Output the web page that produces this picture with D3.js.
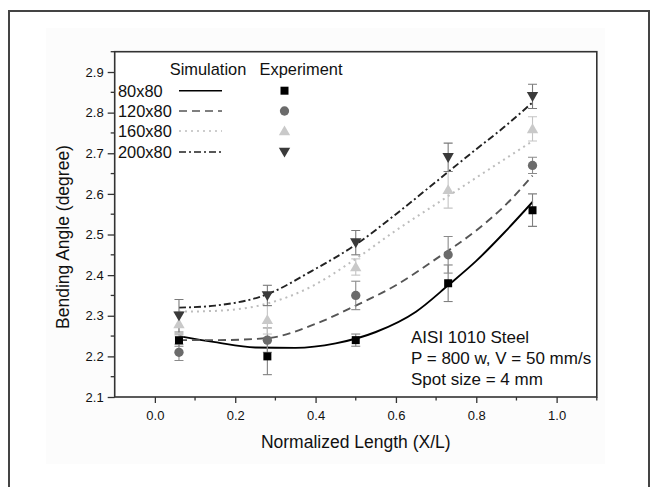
<!DOCTYPE html>
<html>
<head>
<meta charset="utf-8">
<script src="https://cdn.jsdelivr.net/npm/d3@7"></script>
<style>
  html, body { margin: 0; padding: 0; background: #fff; }
  svg { display: block; }
  text { font-family: "Liberation Sans", Arial, sans-serif; fill: #111; }
</style>
</head>
<body>
<svg id="chart" width="656" height="487"></svg>
<script>
// ---------------- data ----------------
const seriesNames = ["80x80", "120x80", "160x80", "200x80"];
const xTicks = [0.0, 0.2, 0.4, 0.6, 0.8, 1.0];
const yTicks = [2.1, 2.2, 2.3, 2.4, 2.5, 2.6, 2.7, 2.8, 2.9];

// experiment (x positions shared)
const xExp = [0.06, 0.28, 0.5, 0.73, 0.94];
const exp80  = [2.24, 2.20, 2.24, 2.38, 2.56];
const err80  = [0.015, 0.045, 0.015, 0.045, 0.04];
const exp120 = [2.21, 2.24, 2.35, 2.45, 2.67];
const err120 = [0.02, 0.03, 0.035, 0.045, 0.02];
const exp160 = [2.28, 2.29, 2.42, 2.61, 2.76];
const err160 = [0.03, 0.035, 0.02, 0.045, 0.03];
const exp200 = [2.30, 2.35, 2.48, 2.69, 2.84];
const err200 = [0.04, 0.025, 0.03, 0.035, 0.03];

// simulation curves
const sim80X  = [0.06, 0.15, 0.25, 0.35, 0.45, 0.55, 0.65, 0.73, 0.80, 0.87, 0.94];
const sim80Y  = [2.25, 2.235, 2.222, 2.221, 2.232, 2.26, 2.31, 2.375, 2.435, 2.505, 2.58];
const sim120X = [0.06, 0.15, 0.28, 0.40, 0.50, 0.60, 0.70, 0.80, 0.87, 0.94];
const sim120Y = [2.24, 2.24, 2.245, 2.28, 2.325, 2.375, 2.44, 2.51, 2.57, 2.645];
const sim160X = [0.06, 0.15, 0.28, 0.39, 0.50, 0.60, 0.70, 0.80, 0.87, 0.94];
const sim160Y = [2.31, 2.312, 2.33, 2.372, 2.44, 2.51, 2.575, 2.64, 2.685, 2.73];
const sim200X = [0.06, 0.15, 0.28, 0.39, 0.50, 0.60, 0.70, 0.80, 0.87, 0.94];
const sim200Y = [2.32, 2.325, 2.353, 2.41, 2.475, 2.55, 2.63, 2.71, 2.765, 2.825];

const annotation = ["AISI 1010 Steel", "P = 800 w, V = 50 mm/s", "Spot size = 4 mm"];

// ---------------- styles ----------------
const styles = [
  { line: "#000",    dash: null,      marker: d3.symbolSquare,   mSize: 64, fill: "#000",    err: "#808080", rot: 0 },
  { line: "#555",    dash: "8,5",     marker: d3.symbolCircle,   mSize: 68, fill: "#6b6b6b", err: "#8a8a8a", rot: 0 },
  { line: "#bdbdbd", dash: "2,4",     marker: d3.symbolTriangle, mSize: 56, fill: "#c9c9c9", err: "#c4c4c4", rot: 0 },
  { line: "#222",    dash: "7,3,2,3", marker: d3.symbolTriangle, mSize: 56, fill: "#3a3a3a", err: "#7a7a7a", rot: 180 }
];

const expData = [[exp80, err80], [exp120, err120], [exp160, err160], [exp200, err200]];
const simData = [[sim80X, sim80Y], [sim120X, sim120Y], [sim160X, sim160Y], [sim200X, sim200Y]];

// ---------------- layout ----------------
const svg = d3.select("#chart");
const L = 114.7, R = 596.8, T = 51.7, B = 397;
const x = d3.scaleLinear().domain([-0.1, 1.1]).range([L, R]);
const y = d3.scaleLinear().domain([2.1, 2.95]).range([B, T]);

// page frame
svg.append("rect").attr("x", 46).attr("y", 28).attr("width", 559).attr("height", 436).attr("fill", "#fcfcfc");
svg.append("path").attr("d", `M9,495 V11 H649 V495`).attr("fill", "none").attr("stroke", "#444").attr("stroke-width", 2);

svg.append("rect").attr("x", L).attr("y", T).attr("width", R - L).attr("height", B - T).attr("fill", "#fff");

// clip
svg.append("clipPath").attr("id", "clip").append("rect")
  .attr("x", L).attr("y", T).attr("width", R - L).attr("height", B - T);

// axes
const xAxis = d3.axisBottom(x).tickValues(xTicks).tickFormat(d3.format(".1f")).tickSize(6).tickSizeOuter(0);
const gx = svg.append("g").attr("transform", `translate(0,${B})`).call(xAxis);
const yAxis = d3.axisLeft(y).tickValues(yTicks).tickFormat(d3.format(".1f")).tickSize(7).tickSizeOuter(0);
const gy = svg.append("g").attr("transform", `translate(${L},0)`).call(yAxis);

// minor ticks
const xMinor = d3.range(-0.1, 1.1001, 0.1).filter(v => !xTicks.some(t => Math.abs(t - v) < 1e-6) && v > -0.09);
svg.append("g").selectAll("line").data(xMinor).join("line")
  .attr("x1", d => x(d)).attr("x2", d => x(d)).attr("y1", B).attr("y2", B + 3.5)
  .attr("stroke", "#333").attr("stroke-width", 1.3);
const yMinor = d3.range(2.15, 2.95, 0.1);
svg.append("g").selectAll("line").data(yMinor).join("line")
  .attr("x1", L).attr("x2", L - 4).attr("y1", d => y(d)).attr("y2", d => y(d))
  .attr("stroke", "#333").attr("stroke-width", 1.3);

[gx, gy].forEach(g => {
  g.select(".domain").remove();
  g.selectAll(".tick line").attr("stroke", "#333").attr("stroke-width", 1.3);
  g.selectAll(".tick text").attr("font-family", "Liberation Sans, Arial, sans-serif")
    .attr("font-size", 13).attr("fill", "#222");
});
gx.selectAll(".tick text").attr("dy", "0.71em").attr("y", 14);
gy.selectAll(".tick text").attr("x", -11);

// box
svg.append("rect").attr("x", L).attr("y", T).attr("width", R - L).attr("height", B - T)
  .attr("fill", "none").attr("stroke", "#333").attr("stroke-width", 1.6);

// axis titles
svg.append("text").attr("x", (L + R) / 2).attr("y", 448).attr("text-anchor", "middle")
  .attr("font-size", 17.5).text("Normalized Length (X/L)");
svg.append("text").attr("transform", `translate(68.5,237) rotate(-90)`)
  .attr("text-anchor", "middle").attr("font-size", 17.5).text("Bending Angle (degree)");

// simulation curves
const plot = svg.append("g").attr("clip-path", "url(#clip)");
const lineGen = d3.line().x(d => x(d[0])).y(d => y(d[1])).curve(d3.curveMonotoneX);
simData.forEach((s, i) => {
  const pts = s[0].map((v, k) => [v, s[1][k]]);
  plot.append("path").datum(pts).attr("d", lineGen)
    .attr("fill", "none").attr("stroke", styles[i].line).attr("stroke-width", i === 2 ? 2 : 1.9)
    .attr("stroke-dasharray", styles[i].dash);
});

// error bars + markers
expData.forEach((e, i) => {
  const st = styles[i];
  const g = plot.append("g");
  xExp.forEach((xv, k) => {
    const v = e[0][k], er = e[1][k];
    const cx = x(xv);
    g.append("line").attr("x1", cx).attr("x2", cx).attr("y1", y(v - er)).attr("y2", y(v + er))
      .attr("stroke", st.err).attr("stroke-width", 1.1);
    [v - er, v + er].forEach(b => {
      g.append("line").attr("x1", cx - 4.5).attr("x2", cx + 4.5).attr("y1", y(b)).attr("y2", y(b))
        .attr("stroke", st.err).attr("stroke-width", 1.1);
    });
  });
});
expData.forEach((e, i) => {
  const st = styles[i];
  plot.append("g").selectAll("path").data(xExp).join("path")
    .attr("d", d3.symbol().type(st.marker).size(st.mSize))
    .attr("transform", (d, k) => `translate(${x(d)},${y(e[0][k]) + (st.marker === d3.symbolTriangle ? (st.rot ? -1 : 1) : 0)}) rotate(${st.rot})`)
    .attr("fill", st.fill);
});

// legend
const lg = svg.append("g");
lg.append("text").attr("x", 208).attr("y", 75).attr("text-anchor", "middle").attr("font-size", 16.4).text("Simulation");
lg.append("text").attr("x", 301).attr("y", 75).attr("text-anchor", "middle").attr("font-size", 16.4).text("Experiment");
const rowY = [90.7, 111, 131, 152];
seriesNames.forEach((n, i) => {
  const st = styles[i];
  lg.append("text").attr("x", 118).attr("y", rowY[i]).attr("dy", "0.36em").attr("font-size", 16.4).text(n);
  lg.append("line").attr("x1", 179).attr("x2", 222).attr("y1", rowY[i]).attr("y2", rowY[i])
    .attr("stroke", st.line).attr("stroke-width", 1.5).attr("stroke-dasharray", st.dash);
  lg.append("path").attr("d", d3.symbol().type(st.marker).size(st.mSize)())
    .attr("transform", `translate(284.5,${rowY[i] + (st.marker === d3.symbolTriangle ? (st.rot ? -1 : 1) : 0)}) rotate(${st.rot})`)
    .attr("fill", st.fill);
});

// annotation
annotation.forEach((t, i) => {
  svg.append("text").attr("x", 411).attr("y", 342.5 + i * 21).attr("font-size", 17).text(t);
});
</script>
</body>
</html>
